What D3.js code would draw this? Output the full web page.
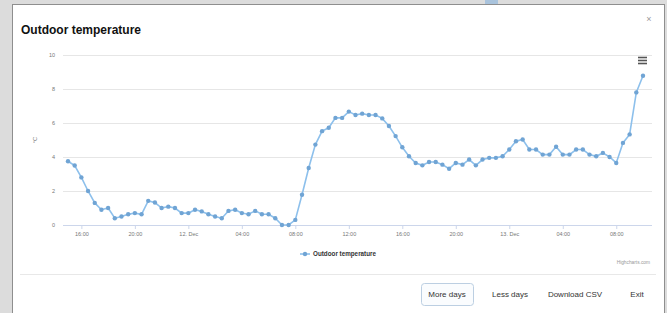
<!DOCTYPE html>
<html>
<head>
<meta charset="utf-8">
<script src="https://cdn.jsdelivr.net/npm/d3@7"></script>
<style>
  html, body { margin: 0; padding: 0; background: #dcdcdc; }
  svg { display: block; font-family: "Liberation Sans", Arial, sans-serif; }
</style>
</head>
<body>
<div id="chart"></div>
<script>
'use strict';

// Readings every 30 minutes, starting 11 Dec 15:00
var startTime = new Date(2016, 11, 11, 15, 0);
var stepMinutes = 30;
var temps = [
  3.75, 3.5, 2.8, 2.0, 1.3, 0.9, 1.0, 0.4, 0.5, 0.63,
  0.7, 0.63, 1.42, 1.32, 1.0, 1.08, 1.0, 0.7, 0.7, 0.9,
  0.8, 0.63, 0.5, 0.4, 0.83, 0.9, 0.7, 0.63, 0.83, 0.63,
  0.63, 0.4, 0.0, 0.0, 0.3, 1.78, 3.35, 4.73, 5.52, 5.72,
  6.3, 6.3, 6.67, 6.47, 6.55, 6.47, 6.47, 6.27, 5.82, 5.23,
  4.57, 4.04, 3.65, 3.51, 3.71, 3.71, 3.55, 3.31, 3.65, 3.55,
  3.85, 3.51, 3.85, 3.95, 3.95, 4.04, 4.44, 4.93, 5.03, 4.44,
  4.44, 4.14, 4.14, 4.6, 4.14, 4.14, 4.44, 4.44, 4.14, 4.04,
  4.24, 4.0, 3.65, 4.83, 5.33, 7.8, 8.78
];

// x tick positions (hours after start) and their labels
var xTickHours = [1, 5, 9, 13, 17, 21, 25, 29, 33, 37, 41];
var xTickLabels = ['16:00', '20:00', '12. Dec', '04:00', '08:00', '12:00',
                   '16:00', '20:00', '13. Dec', '04:00', '08:00'];
var yTicks = [0, 2, 4, 6, 8, 10];

var seriesName = 'Outdoor temperature';
var buttonLabels = ['More days', 'Less days', 'Download CSV', 'Exit'];
var buttonX = [447, 510, 575, 637];

var w = 667;
var h = 313;
var plot = { left: 68, right: 643, top: 55, bottom: 225 };
var gridLeft = 63;
var gridRight = 652;

var data = temps.map(function(v, i) {
  return { t: d3.timeMinute.offset(startTime, i * stepMinutes), v: v };
});

var svg = d3.select('#chart')
  .append('svg')
  .attr('width', w)
  .attr('height', h);

// page + modal
svg.append('rect').attr('width', w).attr('height', h).attr('fill', '#dcdcdc');
svg.append('rect')
  .attr('x', 485).attr('y', 0).attr('width', 13).attr('height', 6)
  .attr('fill', '#a9c3dc');
svg.append('rect')
  .attr('x', 12.5).attr('y', 4.5).attr('width', 652).attr('height', 330)
  .attr('fill', '#ffffff')
  .attr('stroke', '#8e8e8e');

// title and close
svg.append('text')
  .attr('x', 21).attr('y', 34)
  .attr('font-size', 12).attr('font-weight', 'bold').attr('fill', '#111')
  .text('Outdoor temperature');
svg.append('text')
  .attr('x', 649).attr('y', 22)
  .attr('font-size', 9).attr('fill', '#999').attr('text-anchor', 'middle')
  .text('×');

// scales
var x = d3.scaleTime()
  .domain(d3.extent(data, function(d) { return d.t; }))
  .range([plot.left, plot.right]);
var y = d3.scaleLinear()
  .domain([0, 10])
  .range([plot.bottom, plot.top]);

// y grid + labels
var yAxis = d3.axisLeft(y)
  .tickValues(yTicks)
  .tickSize(-(gridRight - gridLeft))
  .tickPadding(8)
  .tickFormat(function(d) { return d; });
var gy = svg.append('g')
  .attr('transform', 'translate(' + gridLeft + ',0)')
  .call(yAxis);
gy.select('.domain').remove();
gy.selectAll('line').attr('stroke', '#e6e6e6');
gy.selectAll('text').attr('font-size', 5.5).attr('fill', '#777').attr('font-family', null);

svg.append('text')
  .attr('transform', 'translate(37,140) rotate(-90)')
  .attr('text-anchor', 'middle')
  .attr('font-size', 6).attr('fill', '#777')
  .text('°C');

// x axis
var xTickDates = xTickHours.map(function(hr) { return d3.timeHour.offset(startTime, hr); });
var xAxis = d3.axisBottom(x)
  .tickValues(xTickDates)
  .tickSize(4)
  .tickPadding(3)
  .tickFormat(function(d, i) { return xTickLabels[i]; });
var gx = svg.append('g')
  .attr('transform', 'translate(0,' + plot.bottom + ')')
  .call(xAxis);
gx.select('.domain')
  .attr('d', 'M' + gridLeft + ',0.5H' + gridRight)
  .attr('stroke', '#ccd6eb');
gx.selectAll('line').attr('stroke', '#ccd6eb');
gx.selectAll('text').attr('font-size', 5.5).attr('fill', '#777').attr('font-family', null);

// series
var line = d3.line()
  .x(function(d) { return x(d.t); })
  .y(function(d) { return y(d.v); });
svg.append('path')
  .datum(data)
  .attr('fill', 'none')
  .attr('stroke', '#8dc0ec')
  .attr('stroke-width', 1.6)
  .attr('d', line);
svg.append('g')
  .selectAll('circle')
  .data(data)
  .enter()
  .append('circle')
  .attr('cx', function(d) { return x(d.t); })
  .attr('cy', function(d) { return y(d.v); })
  .attr('r', 2.2)
  .attr('fill', '#70a4d4');

// menu icon
svg.append('g')
  .selectAll('line')
  .data([57.5, 60.5, 63.5])
  .enter()
  .append('line')
  .attr('x1', 638).attr('x2', 647)
  .attr('y1', function(d) { return d; }).attr('y2', function(d) { return d; })
  .attr('stroke', '#555').attr('stroke-width', 1.6);

// legend
var lg = svg.append('g').attr('transform', 'translate(305,254)');
lg.append('line').attr('x1', -5).attr('x2', 5).attr('stroke', '#8dc0ec').attr('stroke-width', 1.6);
lg.append('circle').attr('r', 2.2).attr('fill', '#70a4d4');
lg.append('text')
  .attr('x', 8).attr('y', 2)
  .attr('font-size', 6.3).attr('font-weight', 'bold').attr('fill', '#333')
  .text(seriesName);

// credits
svg.append('text')
  .attr('x', 650).attr('y', 264)
  .attr('text-anchor', 'end')
  .attr('font-size', 4.8).attr('fill', '#999')
  .text('Highcharts.com');

// footer separator + buttons
svg.append('line')
  .attr('x1', 20).attr('x2', 656)
  .attr('y1', 274.5).attr('y2', 274.5)
  .attr('stroke', '#e8e8e8');
svg.append('rect')
  .attr('x', 421.5).attr('y', 283.5).attr('width', 52).attr('height', 22).attr('rx', 3)
  .attr('fill', '#fafcfe').attr('stroke', '#bccfe2');
svg.append('g')
  .selectAll('text')
  .data(buttonLabels)
  .enter()
  .append('text')
  .attr('x', function(d, i) { return buttonX[i]; })
  .attr('y', 297)
  .attr('text-anchor', 'middle')
  .attr('font-size', 8).attr('fill', '#333')
  .text(function(d) { return d; });
</script>
</body>
</html>
